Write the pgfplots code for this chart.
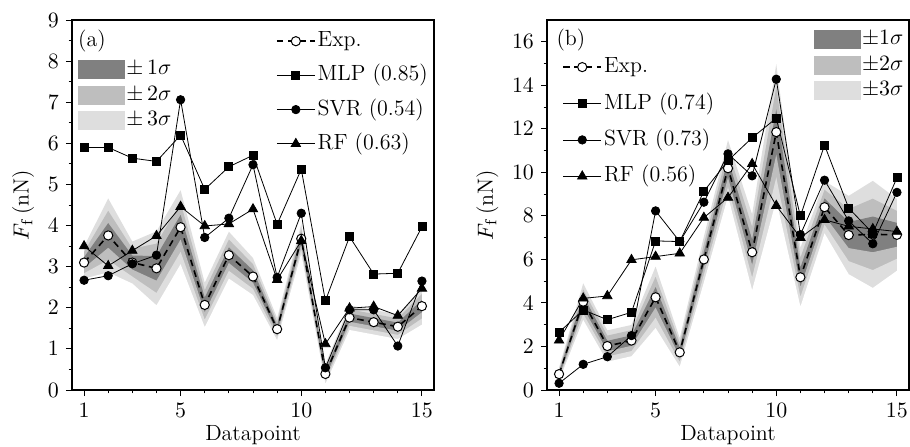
\documentclass[border=0pt]{standalone}
\usepackage{pgfplots}
\pgfplotsset{compat=1.18}
\usepackage{pgfplotstable}

\definecolor{sA}{RGB}{128,128,128}
\definecolor{sB}{RGB}{190,190,190}
\definecolor{sC}{RGB}{222,222,222}

\pgfplotstableread{
x mlp svr rf ex s
1 5.90 2.67 3.50 3.10 0.13
2 5.90 2.78 3.02 3.76 0.30
3 5.64 3.07 3.39 3.10 0.17
4 5.56 3.28 3.75 2.96 0.30
5 6.20 7.06 4.46 3.96 0.30
6 4.88 3.71 3.99 2.07 0.18
7 5.43 4.18 4.04 3.28 0.19
8 5.71 5.48 4.40 2.76 0.15
9 4.03 2.74 2.68 1.48 0.09
10 5.37 4.30 3.63 3.68 0.12
11 2.17 0.54 1.12 0.39 0.08
12 3.73 1.95 1.99 1.76 0.10
13 2.82 1.95 2.03 1.65 0.10
14 2.84 1.07 1.81 1.54 0.10
15 3.97 2.65 2.47 2.04 0.15
}\dataA

\pgfplotstableread{
x mlp svr rf ex s
1 2.65 0.31 2.28 0.73 0.10
2 3.68 1.18 4.21 4.06 0.28
3 3.23 1.53 4.32 2.02 0.24
4 3.57 2.50 5.98 2.27 0.24
5 6.85 8.23 6.13 4.26 0.47
6 6.82 6.82 6.28 1.73 0.22
7 9.13 8.63 7.92 6.00 0.35
8 10.54 10.85 8.84 10.19 0.43
9 11.59 9.84 10.39 6.33 0.58
10 12.49 14.28 8.47 11.85 1.04
11 8.00 7.14 7.00 5.18 0.45
12 11.25 9.64 7.82 8.40 0.40
13 8.36 7.77 7.52 7.12 0.60
14 7.20 6.72 7.40 7.15 0.82
15 9.75 9.08 7.28 7.13 0.55
}\dataB

\pgfplotsset{
  myaxis/.style={
    scale only axis, width=181pt, height=185pt,
    xmin=0.5, xmax=15.5,
    xtick={1,5,10,15}, minor xtick={2,3,4,6,7,8,9,11,12,13,14},
    tick align=outside, tick pos=left,
    major tick length=3pt, minor tick length=1.7pt,
    tick style={black, line width=0.5pt},
    axis line style={line width=0.7pt},
    axis on top,
    font=\fontsize{11}{13}\selectfont,
    tick label style={font=\fontsize{11}{13}\selectfont},
    xlabel={Datapoint}, ylabel={$F_\mathrm{f}$\,(nN)},
    xlabel style={yshift=2.5pt},
    legend cell align=left,
    legend image code/.code={\draw[mark repeat=2,mark phase=2,##1] plot coordinates {(0pt,0pt) (9.5pt,0pt) (19pt,0pt)};},
  },
  bandleg/.style={
    scale only axis, width=181pt, height=185pt,
    hide axis, xmin=0, xmax=1, ymin=0, ymax=1,
    font=\fontsize{11}{13}\selectfont,
    legend cell align=left,
    legend image code/.code={\fill[##1] (0pt,-4.75pt) rectangle (23.5pt,4.75pt);},
  },
  mlpst/.style={black, line width=0.4pt, mark=square*, mark size=2pt},
  svrst/.style={black, line width=0.4pt, mark=*, mark size=2.1pt},
  rfst/.style={black, line width=0.4pt, mark=triangle*, mark size=2.7pt},
  expst/.style={black, line width=0.8pt, dash pattern=on 3.3pt off 2.3pt, mark=*, mark size=2.3pt, mark options={solid, fill=white, draw=black, line width=0.5pt}},
}

% layered bands: each fill goes down to y=0; painted from the top band to the bottom one
\newcommand{\bands}[1]{%
  \addplot[fill=sC, draw=none, forget plot] table[x=x, y expr=\thisrow{ex}+3*\thisrow{s}] {#1} \closedcycle;
  \addplot[fill=sB, draw=none, forget plot] table[x=x, y expr=\thisrow{ex}+2*\thisrow{s}] {#1} \closedcycle;
  \addplot[fill=sA, draw=none, forget plot] table[x=x, y expr=\thisrow{ex}+\thisrow{s}] {#1} \closedcycle;
  \addplot[fill=sB, draw=none, forget plot] table[x=x, y expr=\thisrow{ex}-\thisrow{s}] {#1} \closedcycle;
  \addplot[fill=sC, draw=none, forget plot] table[x=x, y expr=\thisrow{ex}-2*\thisrow{s}] {#1} \closedcycle;
  \addplot[fill=white, draw=none, forget plot] table[x=x, y expr=\thisrow{ex}-3*\thisrow{s}] {#1} \closedcycle;
}

\begin{document}
\begin{tikzpicture}
\path[use as bounding box] (0,0) rectangle (455pt,223pt);

% ---------- panel (a)
\begin{axis}[myaxis, at={(36pt,28pt)}, anchor=south west,
  ymin=0, ymax=9, ytick={0,1,...,9}, minor ytick={0.5,1.5,...,8.5},
  legend style={at={(0.546,0.99)}, anchor=north west, draw=none, fill=none,
    row sep=4.0pt, nodes={text height=8.3pt, text depth=2.8pt, inner sep=1pt}},
]
\bands{\dataA}
\addplot[expst] table[x=x, y=ex] {\dataA};
\addlegendentry{Exp.}
\addplot[mlpst] table[x=x, y=mlp] {\dataA};
\addlegendentry{MLP (0.85)}
\addplot[svrst] table[x=x, y=svr] {\dataA};
\addlegendentry{SVR (0.54)}
\addplot[rfst] table[x=x, y=rf] {\dataA};
\addlegendentry{RF (0.63)}
\node[font=\fontsize{11}{13}\selectfont] at (rel axis cs:0.055,0.943) {(a)};
\end{axis}
\begin{axis}[bandleg, at={(36pt,28pt)}, anchor=south west,
  legend style={at={(0.0,0.905)}, anchor=north west, draw=none, fill=none,
    row sep=2.75pt, nodes={text height=7pt, text depth=2pt, inner sep=0.5pt}}]
\addplot[draw=none, forget plot] coordinates {(0,0) (1,1)};
\addlegendimage{fill=sA, draw=none}
\addlegendentry{$\pm\,1\sigma$}
\addlegendimage{fill=sB, draw=none}
\addlegendentry{$\pm\,2\sigma$}
\addlegendimage{fill=sC, draw=none}
\addlegendentry{$\pm\,3\sigma$}
\end{axis}

% ---------- panel (b)
\begin{axis}[myaxis, at={(273.5pt,28pt)}, anchor=south west,
  ymin=0, ymax=17, ytick={0,2,...,16}, minor ytick={1,3,...,15},
  legend style={at={(0.025,0.92)}, anchor=north west, draw=none, fill=none,
    row sep=5.1pt, nodes={text height=8.3pt, text depth=2.8pt, inner sep=1pt}},
]
\bands{\dataB}
\addplot[expst] table[x=x, y=ex] {\dataB};
\addlegendentry{Exp.}
\addplot[mlpst] table[x=x, y=mlp] {\dataB};
\addlegendentry{MLP (0.74)}
\addplot[svrst] table[x=x, y=svr] {\dataB};
\addlegendentry{SVR (0.73)}
\addplot[rfst] table[x=x, y=rf] {\dataB};
\addlegendentry{RF (0.56)}
\node[font=\fontsize{11}{13}\selectfont] at (rel axis cs:0.066,0.946) {(b)};
\end{axis}
\begin{axis}[bandleg, at={(273.5pt,28pt)}, anchor=south west,
  legend style={at={(0.72,0.985)}, anchor=north west, draw=none, fill=none,
    row sep=2.75pt, nodes={text height=7pt, text depth=2pt, inner sep=0.5pt}}]
\addplot[draw=none, forget plot] coordinates {(0,0) (1,1)};
\addlegendimage{fill=sA, draw=none}
\addlegendentry{$\pm1\sigma$}
\addlegendimage{fill=sB, draw=none}
\addlegendentry{$\pm2\sigma$}
\addlegendimage{fill=sC, draw=none}
\addlegendentry{$\pm3\sigma$}
\end{axis}
\end{tikzpicture}
\end{document}
